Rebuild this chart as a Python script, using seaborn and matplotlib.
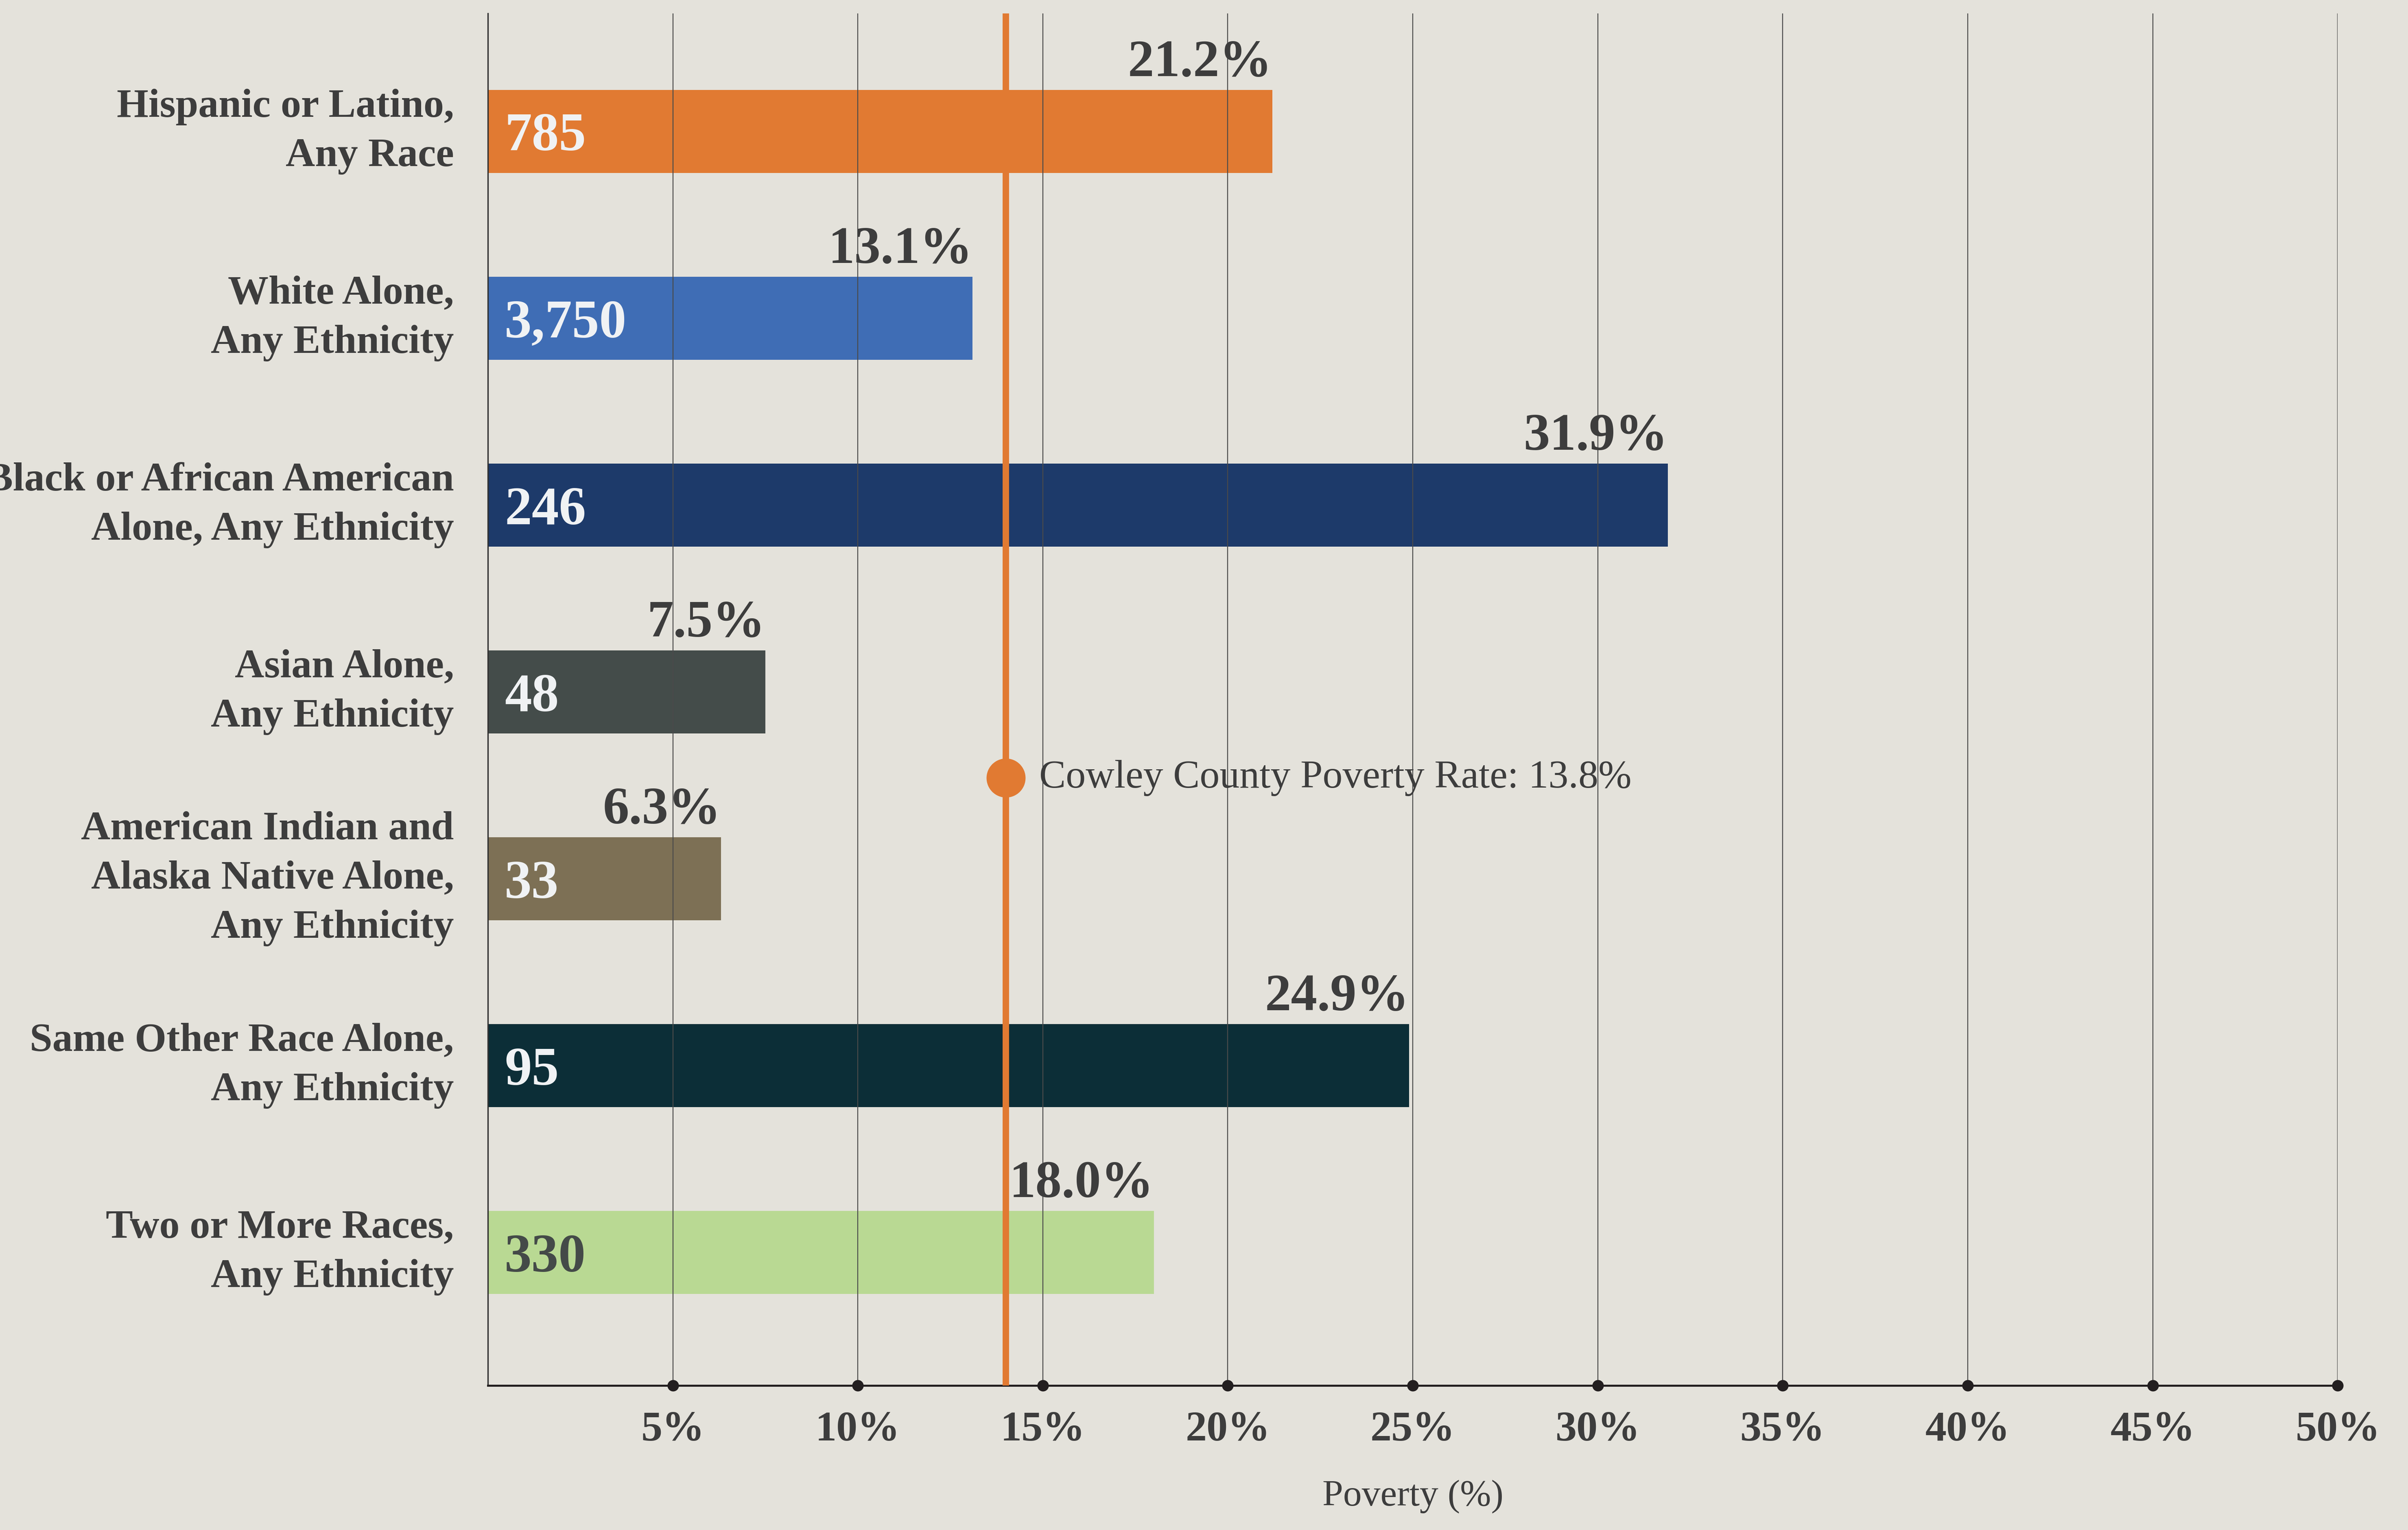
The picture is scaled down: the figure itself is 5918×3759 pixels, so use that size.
import matplotlib
matplotlib.use("Agg")
import matplotlib.pyplot as plt
import seaborn as sns
import pandas as pd

# chart data
categories = [
    "Hispanic or Latino,\nAny Race",
    "White Alone,\nAny Ethnicity",
    "Black or African American\nAlone, Any Ethnicity",
    "Asian Alone,\nAny Ethnicity",
    "American Indian and\nAlaska Native Alone,\nAny Ethnicity",
    "Same Other Race Alone,\nAny Ethnicity",
    "Two or More Races,\nAny Ethnicity",
]
poverty_pct = [21.2, 13.1, 31.9, 7.5, 6.3, 24.9, 18.0]
people_count = ["785", "3,750", "246", "48", "33", "95", "330"]
bar_colors = ["#E17A32", "#3F6DB5", "#1D3A6A", "#444C4A", "#7D7055", "#0C2E37", "#B9D993"]
count_colors = ["#F0F2F4"] * 6 + ["#444A48"]
county_rate = 13.8
county_line_pos = 14.0  # where the reference line sits on the axis
x_ticks = [5, 10, 15, 20, 25, 30, 35, 40, 45, 50]

BG = "#E4E2DB"
TEXT = "#3D3D3D"
ORANGE = "#E17A32"

sns.set_theme(style="white")
plt.rcParams["font.family"] = ["Liberation Serif", "DejaVu Serif"]

df = pd.DataFrame({"group": categories, "pct": poverty_pct})

fig = plt.figure(figsize=(5918 / 300, 3759 / 300), dpi=300, facecolor=BG)
ax = fig.add_axes([0.2026, 0.0944, 0.7682, 0.8968])
ax.set_facecolor(BG)

sns.barplot(data=df, x="pct", y="group", hue="group", palette=bar_colors,
            orient="h", width=0.444, saturation=1, legend=False, ax=ax,
            linewidth=0, edgecolor="none")

ax.set_xlim(0, 50)
ax.set_ylim(6.712, -0.632)

# grid over the bars
ax.set_axisbelow(False)
ax.xaxis.grid(True, color="#4A4A4A", linewidth=0.55)
ax.yaxis.grid(False)

for s in ["top", "right"]:
    ax.spines[s].set_visible(False)
ax.spines["left"].set_color("#333333")
ax.spines["left"].set_linewidth(0.8)
ax.spines["bottom"].set_color("#231F20")
ax.spines["bottom"].set_linewidth(1.2)

ax.set_xticks(x_ticks)
ax.set_xticklabels([f"{t}%" for t in x_ticks], fontsize=25, fontweight="bold", color=TEXT)
ax.tick_params(axis="x", which="major", length=0, pad=15)
for tick in ax.xaxis.get_major_ticks():
    tick.tick1line.set_marker("o")
    tick.tick1line.set_markersize(5.5)
    tick.tick1line.set_markerfacecolor("#231F20")
    tick.tick1line.set_markeredgecolor("#231F20")
    tick.tick1line.set_visible(True)
    tick.tick1line.set_clip_on(False)
    tick.tick1line.set_zorder(6)

ax.tick_params(axis="y", length=0, pad=20)
ax.set_yticks(range(len(categories)))
ax.set_yticklabels(categories, fontsize=24, fontweight="bold", color=TEXT,
                   linespacing=1.45, va="center")
ax.set_ylabel("")
ax.set_xlabel("Poverty (%)", fontsize=22, color=TEXT, labelpad=18)

# county reference line
ax.axvline(county_line_pos, color=ORANGE, linewidth=3.8, zorder=4)
ax.plot([county_line_pos], [3.46], "o", color=ORANGE, markersize=22, zorder=5)
ax.text(county_line_pos + 0.9, 3.46, f"Cowley County Poverty Rate: {county_rate}%",
        fontsize=23.5, color=TEXT, va="center", ha="left", zorder=6)

for i, (v, n) in enumerate(zip(poverty_pct, people_count)):
    ax.text(v, i - 0.235, f"{v:.1f}%", fontsize=31, fontweight="bold", color=TEXT,
            ha="right", va="bottom", zorder=6)
    ax.text(0.45, i + 0.03, n, fontsize=32, fontweight="bold", color=count_colors[i],
            ha="left", va="center", zorder=6)

fig.savefig("out.png", dpi=300, facecolor=BG)
